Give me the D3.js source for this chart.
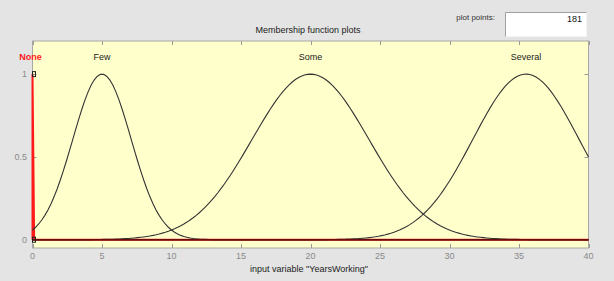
<!DOCTYPE html>
<html><head><meta charset="utf-8">
<script src="https://cdn.jsdelivr.net/npm/d3@7"></script>
<style>
html,body{margin:0;padding:0;background:#e4e4e4;}
svg{display:block;font-family:"Liberation Sans",Arial,sans-serif;}
</style></head>
<body><svg id="chart" width="614" height="281"></svg>
<script>
// Membership functions of input variable "YearsWorking" (gaussmf parameters)
const mfNames   = ["Few", "Some", "Several"];
const mfCenters = [5, 20, 35.5];
const mfSigmas  = [2.1, 4.2, 3.82];
// Selected MF "None" (drawn in red): vertex points
const noneName = "None";
const noneX = [0, 0, 0.12, 40];
const noneY = [0, 1, 0, 0];
const xTicks = [0, 5, 10, 15, 20, 25, 30, 35, 40];
const yTicks = [0, 0.5, 1];
const plotPoints = 181;
const xDomain = [0, 40];
const yDomain = [-0.05, 1.2];

const svg = d3.select("#chart");
const L = 32.5, R = 588.5, T = 41, B = 248;
const x = d3.scaleLinear().domain(xDomain).range([L, R]);
const y = d3.scaleLinear().domain(yDomain).range([B, T]);

svg.append("rect").attr("width",614).attr("height",281).attr("fill","#e4e4e4");

// title
svg.append("text").attr("x",308).attr("y",33).attr("text-anchor","middle")
  .attr("font-size",9).attr("fill","#222").text("Membership function plots");

// plot points control
svg.append("text").attr("x",495).attr("y",20).attr("text-anchor","end")
  .attr("font-size",8).attr("fill","#333").text("plot points:");
svg.append("rect").attr("x",505.5).attr("y",12.5).attr("width",81).attr("height",24)
  .attr("fill","#ffffff").attr("stroke","#f4f4f4");
svg.append("path").attr("d","M505.5,36.5 V12.5 H586.5").attr("fill","none").attr("stroke","#a0a0a0");
svg.append("text").attr("x",582).attr("y",22).attr("text-anchor","end")
  .attr("font-size",9).attr("fill","#111").text(plotPoints);

// plot area
svg.append("rect").attr("x",L).attr("y",T).attr("width",R-L).attr("height",B-T)
  .attr("fill","#ffffcc").attr("stroke","#a8a8a8").attr("stroke-width",1);

const tickCol = "#9a9a9a", tl = 4;
const g = svg.append("g");
xTicks.forEach(v => {
  const px = Math.round(x(v)) + 0.5;
  g.append("line").attr("x1",px).attr("x2",px).attr("y1",T).attr("y2",T+tl).attr("stroke",tickCol);
  g.append("line").attr("x1",px).attr("x2",px).attr("y1",B).attr("y2",B-tl).attr("stroke",tickCol);
  g.append("text").attr("x",x(v)).attr("y",259).attr("text-anchor","middle")
    .attr("font-size",9).attr("fill","#8a8a8a").text(v);
});
yTicks.forEach(v => {
  const py = Math.round(y(v)) + 0.5;
  g.append("line").attr("x1",L).attr("x2",L+tl).attr("y1",py).attr("y2",py).attr("stroke",tickCol);
  g.append("line").attr("x1",R).attr("x2",R-tl).attr("y1",py).attr("y2",py).attr("stroke",tickCol);
  g.append("text").attr("x",27).attr("y",y(v)+3).attr("text-anchor","end")
    .attr("font-size",9).attr("fill","#8a8a8a").text(v);
});

// x label
svg.append("text").attr("x",309).attr("y",272).attr("text-anchor","middle")
  .attr("font-size",9).attr("fill","#222").text('input variable "YearsWorking"');

const line = d3.line().x(d => x(d[0])).y(d => y(d[1]));
const xs = d3.range(plotPoints).map(i => xDomain[0] + i*(xDomain[1]-xDomain[0])/(plotPoints-1));

// red selected MF
const nonePts = noneX.map((v,i)=>[v, noneY[i]]);
svg.append("path").attr("d", line(nonePts)).attr("fill","none")
  .attr("stroke","#ff1a1a").attr("stroke-width",2);

// gaussian MFs
mfNames.forEach((n,i) => {
  const pts = xs.map(v => [v, Math.exp(-((v-mfCenters[i])**2)/(2*mfSigmas[i]**2))]);
  svg.append("path").attr("d", line(pts)).attr("fill","none")
    .attr("stroke","#333").attr("stroke-width",1.1);
  svg.append("text").attr("x",x(mfCenters[i])).attr("y",60).attr("text-anchor","middle")
    .attr("font-size",9).attr("fill","#222").text(n);
});
// dark overlay on red zero line
svg.append("line").attr("x1",x(0)+1).attr("x2",x(40)).attr("y1",y(0)).attr("y2",y(0))
  .attr("stroke","#6a0c0c").attr("stroke-width",1.6);

// vertex handles of selected MF
[[0,1],[0,0]].forEach(d => {
  svg.append("rect").attr("x",x(d[0])).attr("y",y(d[1])-2.5).attr("width",3).attr("height",5)
    .attr("fill","none").attr("stroke","#222").attr("stroke-width",1);
});

svg.append("text").attr("x",x(0)-2).attr("y",60).attr("text-anchor","middle")
  .attr("font-size",9).attr("font-weight","bold").attr("fill","#ff1a1a").text(noneName);
</script></body></html>
